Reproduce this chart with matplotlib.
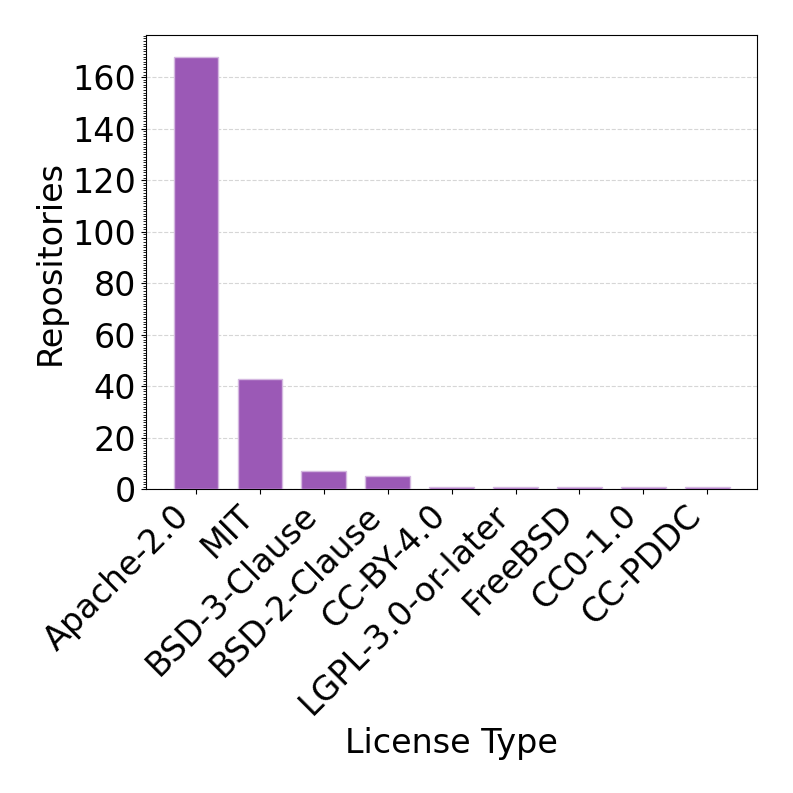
import matplotlib
matplotlib.use('Agg')
import matplotlib.pyplot as plt
import numpy as np
from matplotlib.ticker import MultipleLocator

# License counts
licenses = ['Apache-2.0', 'MIT', 'BSD-3-Clause', 'BSD-2-Clause', 'CC-BY-4.0',
            'LGPL-3.0-or-later', 'FreeBSD', 'CC0-1.0', 'CC-PDDC']
counts = [168, 43, 7, 5, 1, 1, 1, 1, 1]

fig, ax = plt.subplots(figsize=(7.93, 7.93), dpi=100)
index = np.arange(len(licenses))
ax.bar(index, counts, 0.7, color='#9b59b6', edgecolor='#d4b8e0', linewidth=1, zorder=3)

ax.set_xticks(index)
ax.set_xticklabels(licenses, rotation=45, ha='right', fontsize=24)
ax.tick_params(axis='y', labelsize=24)
ax.yaxis.set_major_locator(MultipleLocator(20))
ax.yaxis.set_minor_locator(MultipleLocator(1))
ax.set_ylim(0, max(counts) * 1.05)
ax.set_xlabel('License Type', fontsize=24)
ax.set_ylabel('Repositories', fontsize=24)
ax.grid(axis='y', linestyle='--', color='#cccccc', alpha=0.8, zorder=0)

fig.subplots_adjust(left=0.184, right=0.955, top=0.956, bottom=0.383)
fig.savefig('out.png', dpi=100)
